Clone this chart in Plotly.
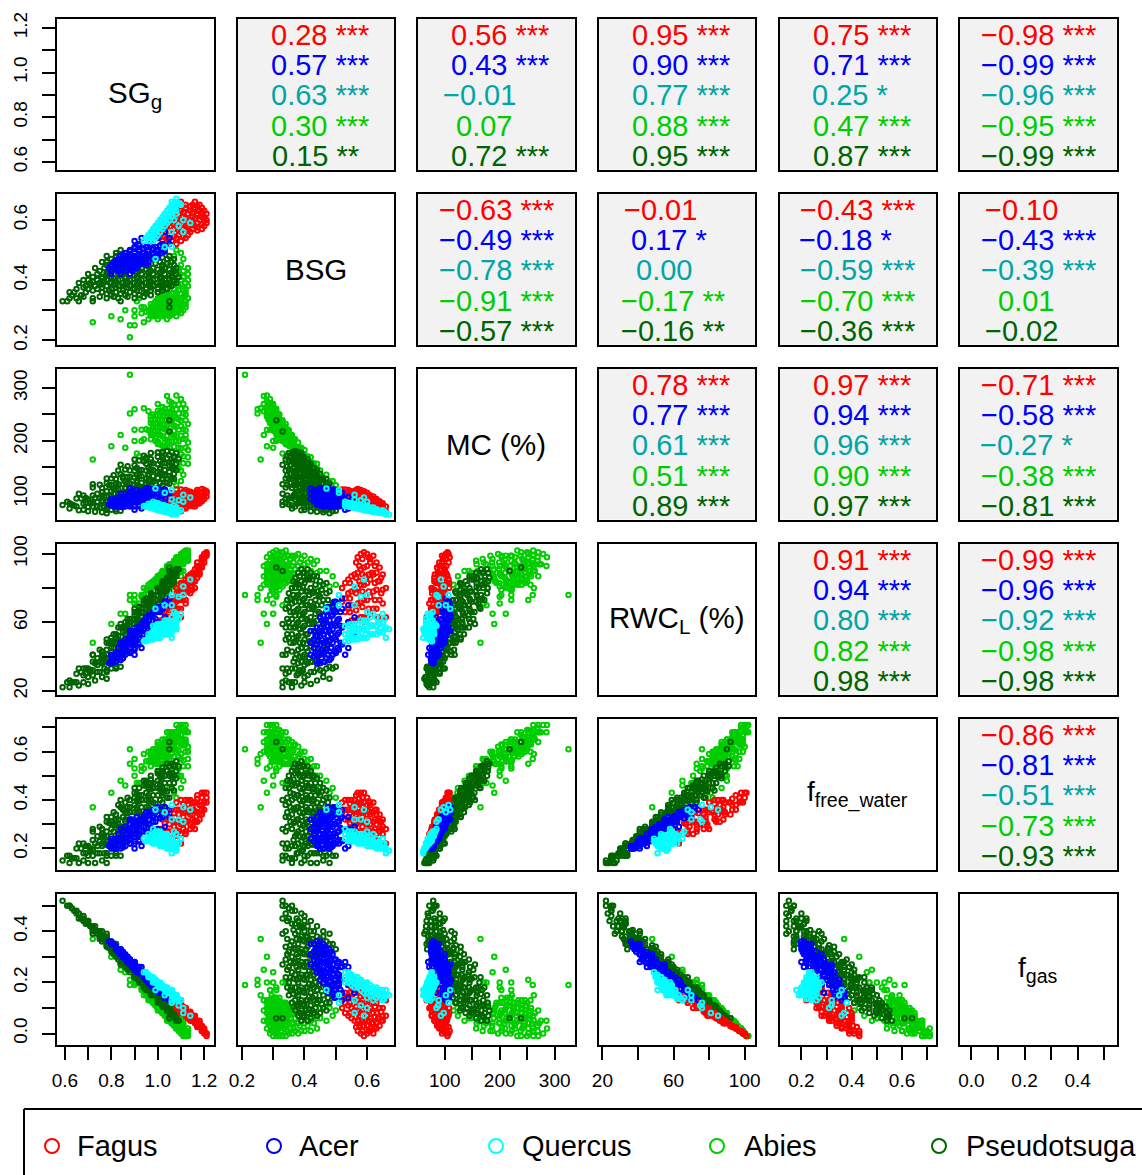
import plotly.graph_objects as go

# ---- values, one array per species and variable ----
fagus_sg = [1.04,1.08, 1.02,1.06,1.10, 1.00,1.04,1.08,1.12, 1.01,1.05,1.09,1.13, 1.02,1.06,1.10,1.14,
 1.03,1.07,1.11,1.15,1.19, 1.04,1.08,1.12,1.16,1.20, 1.05,1.09,1.13,1.17,1.21, 1.06,1.10,1.14,1.18,1.21,
 1.07,1.11,1.15,1.19,1.20, 1.09,1.13,1.17,1.21, 1.10,1.14,1.18,1.20, 1.12,1.16,1.19, 1.12,1.15,1.18, 1.10,1.16,
 1.03,1.07,1.11, 1.05,1.09,1.13,1.17, 1.07,1.11,1.15,1.19, 1.08,1.12,1.16,1.20, 1.11,1.15,1.19, 1.14,1.17,
 1.01,1.13,1.17, 1.03,1.15, 1.05,1.17, 1.08,1.16]
fagus_bsg = [.52,.52, .53,.53,.53, .54,.54,.54,.54, .55,.55,.55,.55, .56,.56,.56,.56,
 .57,.57,.57,.57,.57, .58,.58,.58,.58,.58, .59,.59,.59,.59,.59, .60,.60,.60,.60,.60,
 .61,.61,.61,.61,.61, .62,.62,.62,.62, .63,.63,.63,.63, .64,.64,.64, .65,.65,.65, .66,.66,
 .545,.545,.545, .565,.565,.565,.565, .585,.585,.585,.585, .605,.605,.605,.605, .625,.625,.625, .645,.645,
 .575,.575,.575, .595,.595, .615,.615, .635,.635]
fagus_mc = [100,108, 92,100,108, 85,93,100,107, 84,91,98,105, 82,89,96,104,
 81,88,95,102,109, 79,86,93,100,107, 78,85,92,98,105, 77,83,90,97,102,
 75,82,89,95,97, 76,82,89,95, 75,81,87,90, 75,81,86, 72,77,82, 67,76,
 89,96,104, 86,93,100,107, 83,90,97,103, 79,85,92,98, 78,84,90, 77,81,
 76,97,103, 73,93, 71,90, 70,83]
fagus_rwc = [72,80, 66,74,83, 60,68,77,85, 61,70,78,87, 61,70,79,88,
 62,71,80,89,98, 63,72,82,91,100, 63,73,82,92,101, 63,73,83,93,100,
 65,75,85,95,97, 68,78,88,99, 68,79,89,95, 73,84,92, 71,79,88, 63,80,
 66,74,83, 67,77,86,95, 69,78,88,97, 68,78,88,98, 73,83,93, 77,86,
 56,84,93, 58,87, 58,89, 63,84]
fagus_f = [.35,.39, .32,.36,.40, .28,.32,.36,.40, .28,.32,.36,.40, .28,.32,.36,.40,
 .27,.31,.35,.39,.43, .27,.31,.35,.39,.43, .27,.31,.35,.39,.43, .26,.30,.34,.38,.41,
 .26,.30,.34,.38,.39, .27,.31,.35,.39, .26,.30,.34,.36, .27,.31,.34, .26,.29,.32, .22,.28,
 .305,.345,.385, .30,.34,.38,.42, .29,.33,.37,.41, .275,.315,.355,.395, .28,.32,.36, .28,.31,
 .245,.365,.405, .24,.36, .23,.35, .235,.315]
fagus_gas = [.14,.10, .16,.12,.08, .19,.15,.11,.07, .18,.14,.10,.06, .17,.13,.09,.05,
 .17,.13,.09,.05,.01, .16,.12,.08,.04,.00, .15,.11,.07,.03,-.01, .15,.11,.07,.03,.00,
 .14,.10,.06,.02,.01, .12,.08,.04,.00, .12,.08,.04,.02, .10,.06,.03, .10,.07,.05, .13,.07,
 .16,.12,.08, .145,.105,.065,.025, .13,.09,.05,.01, .13,.09,.05,.01, .105,.065,.025, .085,.05,
 .19,.07,.03, .18,.055, .16,.04, .14,.06]

acer_sg = [.80,.84,.88, .80,.83,.86,.89, .79,.82,.85,.88,.91, .80,.83,.86,.89,.92,.95, .81,.84,.87,.90,.93,.96,
 .83,.86,.89,.92,.95,.98, .84,.87,.90,.93,.96,.99, .86,.90,.94,.98,1.01, .88,.92,.96,1.00,1.03,
 .90,.95,.99,1.03, .92,.97,1.02,1.05, .93,1.00,1.05, .98,1.03, .90,
 .82,.85,.88, .82,.85,.88,.91,.94, .85,.88,.91,.94,.97,1.00, .88,.92,.96,1.00,1.03, .92,.97,1.01,
 .80,.83,.87,.90, .82,.85,.88,.92,.95, .85,.88,.92,.95,.98, .90,.94,.98]
acer_bsg = [.42,.42,.42, .43,.43,.43,.43, .44,.44,.44,.44,.44, .45,.45,.45,.45,.45,.45, .46,.46,.46,.46,.46,.46,
 .47,.47,.47,.47,.47,.47, .48,.48,.48,.48,.48,.48, .49,.49,.49,.49,.49, .50,.50,.50,.50,.50,
 .51,.51,.51,.51, .52,.52,.52,.52, .54,.54,.54, .56,.56, .53,
 .435,.435,.435, .455,.455,.455,.455,.455, .475,.475,.475,.475,.475,.475, .495,.495,.495,.495,.495, .515,.515,.515,
 .445,.445,.445,.445, .465,.465,.465,.465,.465, .485,.485,.485,.485,.485, .505,.505,.505]
acer_mc = [90,100,110, 86,93,100,107, 80,86,93,100,107, 78,84,91,98,104,111, 76,83,89,96,102,109,
 77,83,89,96,102,109, 75,81,88,94,100,106, 76,84,92,100,106, 76,84,92,100,106,
 76,86,94,102, 77,87,96,102, 72,85,94, 75,84, 70,
 89,95,102, 80,87,93,100,107, 79,85,92,98,104,111, 78,86,94,102,108, 79,88,96,
 80,87,96,102, 76,83,89,98,104, 75,81,90,96,102, 78,86,94]
acer_rwc = [41,48,55, 40,45,50,55, 36,41,47,52,57, 36,41,47,52,57,63, 37,42,48,53,59,64,
 39,44,49,55,60,66, 38,43,49,55,61,66, 41,48,56,64,69, 42,50,58,66,72,
 44,54,62,70, 47,57,68,74, 45,60,70, 52,63, 41,
 42,47,52, 39,44,50,55,61, 41,47,52,58,64,69, 43,51,59,67,72, 48,58,66,
 37,42,49,55, 37,43,48,55,61, 39,45,53,58,64, 45,53,61]
acer_f = [.24,.28,.32, .23,.26,.29,.32, .21,.24,.27,.30,.33, .20,.23,.26,.29,.32,.35, .20,.23,.26,.29,.32,.35,
 .21,.24,.27,.30,.33,.36, .20,.23,.26,.29,.32,.35, .21,.25,.29,.33,.36, .22,.25,.30,.34,.37,
 .22,.27,.31,.35, .23,.28,.33,.36, .21,.28,.33, .24,.29, .20,
 .24,.27,.30, .215,.245,.275,.305,.335, .22,.25,.28,.31,.34,.37, .22,.26,.30,.34,.37, .235,.285,.325,
 .21,.24,.28,.31, .20,.23,.26,.30,.33, .205,.235,.275,.305,.335, .23,.27,.31]
acer_gas = [.35,.31,.27, .35,.32,.29,.26, .36,.33,.30,.27,.24, .36,.33,.30,.27,.24,.21, .35,.32,.29,.26,.23,.20,
 .33,.30,.27,.24,.21,.18, .33,.30,.27,.24,.20,.18, .31,.27,.23,.19,.16, .29,.25,.21,.17,.14,
 .28,.23,.19,.15, .26,.21,.16,.13, .26,.19,.14, .21,.16, .28,
 .33,.30,.27, .34,.31,.28,.25,.22, .31,.28,.25,.22,.19,.16, .29,.25,.21,.17,.14, .26,.21,.17,
 .35,.32,.28,.25, .34,.31,.28,.24,.21, .32,.29,.25,.22,.19, .275,.235,.195]

quercus_sg = [.94,.96,.98, .95,.97,.99, .96,.98,1.00, .97,.99,1.01, .98,1.00,1.02, .99,1.01,1.03,1.09, 1.00,1.02,1.04,
 1.01,1.03,1.05,1.11,1.07, 1.02,1.04,1.06, 1.03,1.05,1.08, 1.04,1.06,1.08, 1.05,1.07, 1.06,1.08,1.10, 1.06,1.08, 1.08,
 1.03,.99,1.06,1.14,1.11,1.06,
 .97,.99, .99,1.01, 1.01,1.03, 1.03,1.05, 1.05,1.07, 1.07,1.09, .96,.98]
quercus_bsg = [.53,.53,.53, .54,.54,.54, .55,.55,.55, .56,.56,.56, .57,.57,.57, .58,.58,.58,.58, .59,.59,.59,
 .60,.60,.60,.60,.60, .61,.61,.61, .62,.62,.62, .63,.63,.63, .64,.64, .65,.65,.65, .66,.66, .67,
 .51,.47,.51,.59,.56,.56,
 .555,.555, .575,.575, .595,.595, .615,.615, .635,.635, .655,.655, .545,.545]
quercus_mc = [77,81,85, 76,80,83, 75,78,82, 73,77,80, 72,75,79, 71,74,78,88, 69,73,76,
 68,72,75,85,78, 67,70,74, 66,69,74, 65,68,71, 64,67, 63,66,69, 61,64, 61,
 102,110,107,93,98,89,
 75,78, 72,76, 70,73, 67,71, 65,69, 63,66, 76,80]
quercus_rwc = [49,53,58, 49,53,58, 50,54,59, 50,55,59, 50,55,59, 51,56,61,75, 51,56,61,
 51,56,61,76,66, 53,58,63, 53,58,65, 53,58,63, 54,59, 54,60,65, 51,57, 56,
 70,68,76,85,81,70,
 51,56, 52,56, 53,58, 53,58, 55,60, 56,62, 51,55]
quercus_f = [.24,.26,.28, .23,.25,.27, .23,.25,.27, .23,.25,.27, .22,.24,.26, .22,.24,.26,.32, .22,.24,.26,
 .21,.23,.25,.31,.27, .21,.23,.25, .21,.23,.26, .20,.22,.24, .20,.22, .20,.22,.24, .18,.20, .19,
 .35,.36,.38,.36,.37,.32,
 .23,.25, .225,.245, .22,.24, .21,.23, .205,.225, .20,.22, .235,.255]
quercus_gas = [.24,.22,.20, .24,.22,.20, .23,.21,.19, .22,.20,.18, .22,.20,.18, .21,.19,.17,.11, .20,.18,.16,
 .20,.18,.16,.10,.14, .19,.17,.15, .18,.16,.13, .18,.16,.14, .17,.15, .17,.15,.13, .17,.15, .15,
 .15,.17,.12,.07,.08,.13,
 .22,.20, .21,.19, .195,.18, .18,.16, .17,.15, .155,.135, .23,.21]

abies_sg = [.88,.72,.84,.88,.90,.80,.86,.90,.91,.92,.95,.97,.94,.90,.93,
 .96,1.00,1.04, .98,1.00,1.02,1.05,1.08, .93,.97,.99,1.01,1.03,1.05,1.07,1.10,
 .96,.98,1.00,1.02,1.04,1.06,1.08,1.11, .94,.97,.99,1.01,1.03,1.05,1.07,1.09,1.12,
 .97,1.00,1.03,1.06,1.09,1.12, .99,1.02,1.05,1.08,1.12, 1.00,1.03,1.06,1.09,1.13,
 1.02,1.05,1.08,1.12, 1.00,1.04,1.08,1.12, 1.02,1.07,1.12, 1.09,1.13, 1.08,1.12, 1.10,1.13,
 1.09,1.13, 1.11,1.07, 1.09,1.13, 1.05, 1.11, 1.07, 1.10, 1.08,
 .97,.99,1.01,1.03,1.06, .95,.98,1.00,1.02,1.04,1.06,1.09, .97,.99,1.01,1.03,1.05,1.07,1.10,
 .98,1.00,1.02,1.04,1.06,1.08,1.11, .99,1.01,1.04,1.07,1.10, 1.00,1.04,1.07,1.10,
 1.01,1.04,1.07,1.11, 1.03,1.06,1.10, 1.05,1.09,1.11, 1.05,1.10, 1.06,1.11, 1.10]
abies_bsg = [.21,.26,.27,.25,.25,.28,.30,.30,.33,.34,.36,.28,.26,.28,.31,
 .27,.27,.27, .28,.28,.28,.28,.28, .29,.29,.29,.29,.29,.29,.29,.29,
 .30,.30,.30,.30,.30,.30,.30,.30, .31,.31,.31,.31,.31,.31,.31,.31,.31,
 .32,.32,.32,.32,.32,.32, .33,.33,.33,.33,.33, .34,.34,.34,.34,.34,
 .35,.35,.35,.35, .36,.36,.36,.36, .37,.37,.37, .38,.38, .39,.39, .40,.40,
 .42,.42, .43,.43, .44,.44, .45, .47, .48, .49, .50,
 .285,.285,.285,.285,.285, .295,.295,.295,.295,.295,.295,.295, .305,.305,.305,.305,.305,.305,.305,
 .315,.315,.315,.315,.315,.315,.315, .325,.325,.325,.325,.325, .335,.335,.335,.335,
 .345,.345,.345,.345, .355,.355,.355, .365,.365,.365, .385,.385, .41,.41, .45]
abies_mc = [325,165,211,252,260,190,187,200,176,171,164,246,262,221,200,
 256,270,285, 250,257,264,275,286, 221,234,241,248,255,262,269,279,
 220,227,233,240,247,253,260,270, 203,213,219,226,232,239,245,252,261,
 203,212,222,231,241,250, 200,209,218,227,239, 194,203,212,221,232,
 191,200,209,220, 178,189,200,211, 176,189,203, 187,197, 177,187, 175,183,
 160,169, 158,149, 148,157, 133, 136, 123, 124, 116,
 240,247,254,261,272, 222,232,239,246,253,259,269, 218,225,231,238,244,251,261,
 211,217,224,230,237,243,252, 205,211,220,229,238, 199,210,219,228,
 193,201,210,222, 190,199,210, 188,199,204, 173,186, 159,171, 144]
abies_rwc = [76,48,65,73,76,59,65,71,70,71,73,83,80,73,75,
 82,87,93, 84,87,90,94,98, 76,82,85,87,90,93,96,100,
 79,82,85,88,91,94,97,101, 76,80,83,86,89,92,95,98,102,
 79,84,88,92,97,101, 81,86,90,95,101, 83,87,92,96,102,
 84,89,94,99, 80,87,93,99, 83,91,99, 93,100, 91,97, 94,99,
 90,97, 94,87, 89,96, 81, 90, 81, 87, 82,
 82,85,88,90,94, 79,83,86,89,92,94,98, 80,83,86,89,92,95,99,
 81,84,87,90,93,96,100, 82,85,90,94,99, 83,89,93,98,
 84,88,93,99, 86,91,97, 88,95,98, 87,95, 86,95, 90]
abies_f = [.61,.37,.48,.55,.57,.43,.46,.50,.47,.47,.47,.60,.59,.53,.52,
 .60,.64,.68, .61,.63,.65,.68,.71, .54,.58,.60,.62,.64,.66,.68,.71,
 .56,.58,.60,.62,.64,.66,.68,.71, .53,.56,.58,.60,.62,.64,.66,.68,.71,
 .54,.57,.60,.63,.66,.69, .55,.58,.61,.64,.68, .55,.58,.61,.64,.68,
 .55,.58,.61,.65, .52,.56,.60,.64, .53,.58,.63, .58,.62, .56,.60, .57,.60,
 .53,.57, .54,.50, .50,.54, .45, .48, .43, .45, .41,
 .59,.61,.63,.65,.68, .56,.59,.61,.63,.65,.67,.70, .56,.58,.60,.62,.64,.66,.69,
 .56,.58,.60,.62,.64,.66,.69, .56,.58,.61,.64,.67, .55,.59,.62,.65,
 .55,.58,.61,.65, .56,.59,.63, .565,.605,.625, .54,.59, .515,.565, .50]
abies_gas = [.19,.37,.25,.21,.19,.30,.24,.20,.20,.20,.17,.13,.15,.20,.18,
 .13,.09,.05, .12,.10,.08,.05,.02, .17,.13,.11,.09,.07,.05,.03,.00,
 .14,.12,.10,.08,.06,.04,.02,-.01, .17,.14,.12,.10,.08,.06,.04,.02,-.01,
 .14,.11,.08,.05,.02,-.01, .12,.09,.06,.03,-.01, .12,.09,.06,.03,-.01,
 .10,.07,.04,.00, .12,.08,.04,.00, .11,.06,.01, .04,.00, .05,.01, .04,.01,
 .05,.01, .04,.08, .06,.02, .10, .05, .10, .07, .09,
 .13,.11,.09,.07,.04, .15,.12,.10,.08,.06,.04,.01, .14,.12,.10,.08,.06,.04,.01,
 .13,.11,.09,.07,.05,.03,.00, .12,.10,.07,.04,.01, .12,.08,.05,.02,
 .11,.08,.05,.01, .09,.06,.02, .08,.04,.02, .08,.03, .08,.03, .06]

pseudo_sg = [.59,.61,.66,.72,.84, .62,.65,.72,.78,.83,.90,1.05,1.05, .63,.67,.80,.86,.92,.97,
 .64,.69,.76,.82,.88,.94,1.00, .65,.70,.74,.80,.85,.90,.95,1.00,1.04,
 .69,.73,.78,.83,.88,.93,.98,1.02,1.06, .71,.75,.80,.85,.90,.95,1.00,1.04,1.08,
 .70,.74,.78,.83,.88,.93,.98,1.03,1.07, .72,.76,.80,.86,.91,.96,1.01,1.06,1.09,
 .74,.78,.83,.88,.93,.98,1.03,1.08, .75,.80,.86,.92,.97,1.02,1.07,
 .77,.81,.87,.93,.98,1.03,1.08, .78,.84,.90,.96,1.02,1.07, .78,.85,.94,1.01,1.06,
 .80,.88,.98,1.04,1.07, .82,.90,1.00,1.05, .82,1.02, .84,
 .62,.66,.70,.68,.73,.78,.76,
 .68,.75,.81,.87,.94, .78,.84,.90,.95, .72,.79,.85,.91,.97,1.02,
 .68,.76,.82,.87,.92,.97,1.02, .71,.76,.81,.86,.91,.96,1.01,1.05,
 .72,.77,.82,.87,.92,.97,1.02,1.07, .76,.81,.86,.91,.96,1.01,1.05,
 .78,.84,.90,.95,1.00,1.05, .78,.85,.91,.96,1.01,1.06, .80,.84,.89,.95,1.00,1.05,
 .82,.90,.96,1.02, .84,.92,.99,1.04, .85,.94,1.02]
pseudo_bsg = [.33,.33,.33,.33,.33, .34,.34,.34,.34,.34,.34,.33,.31, .35,.35,.35,.35,.35,.35,
 .36,.36,.36,.36,.36,.36,.36, .37,.37,.37,.37,.37,.37,.37,.37,.37,
 .38,.38,.38,.38,.38,.38,.38,.38,.38, .39,.39,.39,.39,.39,.39,.39,.39,.39,
 .40,.40,.40,.40,.40,.40,.40,.40,.40, .41,.41,.41,.41,.41,.41,.41,.41,.41,
 .42,.42,.42,.42,.42,.42,.42,.42, .43,.43,.43,.43,.43,.43,.43,
 .44,.44,.44,.44,.44,.44,.44, .45,.45,.45,.45,.45,.45, .46,.46,.46,.46,.46,
 .47,.47,.47,.47,.47, .48,.48,.48,.48, .49,.49, .50,
 .36,.39,.42,.40,.44,.48,.46,
 .345,.345,.345,.345,.345, .355,.355,.355,.355, .365,.365,.365,.365,.365,.365,
 .375,.375,.375,.375,.375,.375,.375, .385,.385,.385,.385,.385,.385,.385,.385,
 .395,.395,.395,.395,.395,.395,.395,.395, .405,.405,.405,.405,.405,.405,.405,
 .415,.415,.415,.415,.415,.415, .425,.425,.425,.425,.425,.425, .435,.435,.435,.435,.435,.435,
 .445,.445,.445,.445, .455,.455,.455,.455, .475,.475,.475]
pseudo_mc = [79,85,100,118,155, 82,91,112,129,144,165,218,239, 80,91,129,146,163,177,
 78,92,111,128,144,161,178, 76,89,100,116,130,143,157,170,181,
 82,92,105,118,132,145,158,168,179, 82,92,105,118,131,144,156,167,177,
 75,85,95,108,120,133,145,158,168, 76,85,95,110,122,134,146,159,166,
 76,86,98,110,121,133,145,157, 74,86,100,114,126,137,149,
 75,84,98,111,123,134,145, 73,87,100,113,127,138, 70,85,104,120,130,
 70,87,109,121,128, 71,88,108,119, 67,108, 68,
 72,69,67,70,66,63,65,
 97,117,135,152,172, 120,137,154,168, 97,116,133,149,166,179,
 81,103,119,132,145,159,172, 84,97,110,123,136,149,162,173,
 82,95,108,120,133,146,158,171, 88,100,112,125,137,149,159,
 88,102,117,129,141,153, 84,100,114,126,138,149, 84,93,105,118,130,141,
 84,102,116,129, 85,102,118,129, 79,98,115]
pseudo_rwc = [22,25,33,41,59, 26,30,41,50,57,68,90,92, 25,31,51,60,69,77,
 25,33,43,53,62,71,80, 25,33,39,49,57,64,72,80,86,
 30,36,44,52,60,68,76,82,89, 31,37,45,54,62,70,78,84,91,
 28,35,41,50,58,66,74,83,89, 29,36,43,53,61,70,78,86,91,
 31,37,46,55,63,72,80,89, 31,40,50,60,69,78,87,
 33,40,50,61,70,78,87, 32,43,54,65,75,84, 31,44,60,73,82,
 33,47,66,77,83, 34,49,68,78, 33,71, 34,
 22,23,24,25,26,27,28,
 33,44,53,62,73, 48,57,66,74, 37,48,57,66,76,84,
 29,41,51,59,67,75,83, 32,40,48,56,64,72,80,87,
 32,40,48,57,65,73,81,89, 37,45,53,62,70,78,85,
 39,49,59,68,76,85, 37,49,59,68,77,85, 38,45,54,65,73,82,
 41,55,66,76, 43,57,70,79, 41,58,73]
pseudo_f = [.15,.17,.22,.28,.40, .17,.20,.27,.33,.38,.45,.61,.64, .16,.20,.33,.39,.45,.50,
 .16,.21,.28,.34,.40,.46,.52, .16,.21,.25,.31,.36,.41,.46,.51,.55,
 .18,.22,.27,.32,.37,.42,.47,.51,.55, .19,.23,.28,.33,.38,.43,.48,.52,.56,
 .17,.21,.25,.30,.35,.40,.45,.50,.54, .17,.21,.25,.31,.36,.41,.46,.51,.54,
 .18,.22,.27,.32,.37,.42,.47,.52, .18,.23,.29,.35,.40,.45,.50,
 .18,.22,.28,.34,.39,.44,.49, .18,.24,.30,.36,.42,.47, .17,.24,.33,.40,.45,
 .17,.25,.35,.41,.44, .18,.26,.36,.41, .17,.37, .17,
 .14,.14,.14,.15,.14,.14,.15,
 .22,.29,.35,.41,.48, .31,.37,.43,.48, .235,.305,.365,.425,.485,.535,
 .18,.26,.32,.37,.42,.47,.52, .20,.25,.30,.35,.40,.45,.50,.54,
 .195,.245,.295,.345,.395,.445,.495,.545, .22,.27,.32,.37,.42,.47,.51,
 .23,.29,.35,.40,.45,.50, .215,.285,.345,.395,.445,.495, .22,.26,.31,.37,.42,.47,
 .23,.31,.37,.43, .235,.315,.385,.435, .22,.31,.39]
pseudo_gas = [.52,.50,.45,.39,.27, .50,.47,.40,.34,.29,.22,.06,.06, .49,.45,.32,.26,.20,.15,
 .48,.43,.36,.30,.24,.18,.12, .48,.43,.39,.33,.28,.23,.18,.13,.09,
 .44,.40,.35,.30,.25,.20,.15,.11,.07, .42,.38,.33,.28,.23,.18,.13,.09,.05,
 .44,.40,.36,.31,.26,.21,.16,.11,.07, .42,.38,.34,.28,.23,.18,.13,.08,.05,
 .40,.36,.31,.26,.21,.16,.11,.06, .40,.35,.29,.23,.18,.13,.08,
 .38,.34,.28,.22,.17,.12,.07, .37,.31,.25,.19,.13,.08, .38,.31,.22,.15,.10,
 .36,.28,.18,.12,.09, .35,.27,.17,.12, .35,.15, .33,
 .50,.47,.44,.46,.42,.39,.40,
 .44,.37,.31,.25,.18, .345,.28,.22,.17, .405,.335,.275,.215,.155,.105,
 .45,.37,.31,.26,.21,.16,.11, .42,.37,.32,.27,.22,.17,.12,.08,
 .415,.365,.315,.265,.215,.165,.115,.065, .38,.33,.28,.23,.18,.13,.09,
 .365,.305,.245,.195,.145,.095, .37,.30,.24,.19,.14,.09, .35,.31,.26,.20,.15,.10,
 .33,.25,.19,.13, .315,.235,.165,.115, .31,.22,.14]

species_names = ["Fagus", "Acer", "Quercus", "Abies", "Pseudotsuga"]
species_colors = ["#ff0000", "#0000ff", "#00ffff", "#00cd00", "#006400"]
text_colors = ["#ff0000", "#0000ff", "#00a5a5", "#00cd00", "#006400"]
series = {
    "Fagus": [fagus_sg, fagus_bsg, fagus_mc, fagus_rwc, fagus_f, fagus_gas],
    "Acer": [acer_sg, acer_bsg, acer_mc, acer_rwc, acer_f, acer_gas],
    "Quercus": [quercus_sg, quercus_bsg, quercus_mc, quercus_rwc, quercus_f, quercus_gas],
    "Abies": [abies_sg, abies_bsg, abies_mc, abies_rwc, abies_f, abies_gas],
    "Pseudotsuga": [pseudo_sg, pseudo_bsg, pseudo_mc, pseudo_rwc, pseudo_f, pseudo_gas],
}
draw_order = ["Abies", "Pseudotsuga", "Fagus", "Acer", "Quercus"]

var_labels = ["SG<sub>g</sub>", "BSG", "MC (%)", "RWC<sub>L</sub> (%)", "f<sub>free_water</sub>", "f<sub>gas</sub>"]
var_label_sizes = [29.5, 29.5, 29.5, 29.5, 28, 28]
ranges = [(.566, 1.24), (.186, .686), (51.4, 336), (17.8, 105.8), (.113, .735), (-.043, .546)]
label_vals = [[.6,.8,1.0,1.2], [.2,.4,.6], [100,200,300], [20,60,100], [.2,.4,.6], [0,.2,.4]]
label_text = [["0.6","0.8","1.0","1.2"], ["0.2","0.4","0.6"], ["100","200","300"], ["20","60","100"],
              ["0.2","0.4","0.6"], ["0.0","0.2","0.4"]]
minor_vals = [[.7,.9,1.1], [.3,.5], [150,250], [40,80], [.3,.5,.7], [.1,.3,.5]]

# correlations (row, column) with their significance stars, per species
corr = {
 (0,1): [("0.28","***"),("0.57","***"),("0.63","***"),("0.30","***"),("0.15","**")],
 (0,2): [("0.56","***"),("0.43","***"),("−0.01",""),("0.07",""),("0.72","***")],
 (0,3): [("0.95","***"),("0.90","***"),("0.77","***"),("0.88","***"),("0.95","***")],
 (0,4): [("0.75","***"),("0.71","***"),("0.25","*"),("0.47","***"),("0.87","***")],
 (0,5): [("−0.98","***"),("−0.99","***"),("−0.96","***"),("−0.95","***"),("−0.99","***")],
 (1,2): [("−0.63","***"),("−0.49","***"),("−0.78","***"),("−0.91","***"),("−0.57","***")],
 (1,3): [("−0.01",""),("0.17","*"),("0.00",""),("−0.17","**"),("−0.16","**")],
 (1,4): [("−0.43","***"),("−0.18","*"),("−0.59","***"),("−0.70","***"),("−0.36","***")],
 (1,5): [("−0.10",""),("−0.43","***"),("−0.39","***"),("0.01",""),("−0.02","")],
 (2,3): [("0.78","***"),("0.77","***"),("0.61","***"),("0.51","***"),("0.89","***")],
 (2,4): [("0.97","***"),("0.94","***"),("0.96","***"),("0.90","***"),("0.97","***")],
 (2,5): [("−0.71","***"),("−0.58","***"),("−0.27","*"),("−0.38","***"),("−0.81","***")],
 (3,4): [("0.91","***"),("0.94","***"),("0.80","***"),("0.82","***"),("0.98","***")],
 (3,5): [("−0.99","***"),("−0.96","***"),("−0.92","***"),("−0.98","***"),("−0.98","***")],
 (4,5): [("−0.86","***"),("−0.81","***"),("−0.51","***"),("−0.73","***"),("−0.93","***")],
}

W, H = 1142, 1175
FONT = "Liberation Sans"
col_x = [(57,213.5),(237.5,394),(418,574.5),(598.5,755),(779.5,936),(960,1116.5)]
row_y = [(19,169.5),(194,344.5),(369,519.5),(544,694.5),(719,869.5),(894,1044.5)]
px = lambda x: x / W
py = lambda y: 1 - y / H

fig = go.Figure()
layout = dict(width=W, height=H, margin=dict(l=0, r=0, t=0, b=0, autoexpand=False), autosize=False, showlegend=False,
              paper_bgcolor="white", plot_bgcolor="rgba(0,0,0,0)", font=dict(family=FONT, color="black"))
shapes, annots = [], []
tick_style = dict(ticks="outside", ticklen=13, tickwidth=2, tickcolor="black")
for r in range(6):
    for c in range(6):
        k = r * 6 + c + 1
        sx = "" if k == 1 else str(k)
        xa = dict(domain=[px(col_x[c][0]), px(col_x[c][1])], range=list(ranges[c]), anchor="y" + sx,
                  showgrid=False, zeroline=False, showline=True, mirror=True, linecolor="black", linewidth=2)
        ya = dict(domain=[py(row_y[r][1]), py(row_y[r][0])], range=list(ranges[r]), anchor="x" + sx,
                  showgrid=False, zeroline=False, showline=True, mirror=True, linecolor="black", linewidth=2)
        if r == 5:
            xa.update(tickmode="array", tickvals=label_vals[c], ticktext=label_text[c], tickangle=0,
                      tickfont=dict(family=FONT, size=19), ticklabelstandoff=5,
                      minor=dict(tickmode="array", tickvals=minor_vals[c], **tick_style), **tick_style)
        else:
            xa.update(showticklabels=False, ticks="")
        if c == 0:
            ya.update(tickmode="array", tickvals=label_vals[r], ticktext=label_text[r], tickangle=-90,
                      tickfont=dict(family=FONT, size=19), ticklabelstandoff=7,
                      minor=dict(tickmode="array", tickvals=minor_vals[r], **tick_style), **tick_style)
        else:
            ya.update(showticklabels=False, ticks="")
        layout["xaxis" + sx] = xa
        layout["yaxis" + sx] = ya
        x0, x1 = col_x[c]; y0, y1 = row_y[r]
        xm, ym = (x0 + x1) / 2, (y0 + y1) / 2
        if r <= c:
            # an empty trace so the boxed panel and its axes are drawn
            fig.add_trace(go.Scatter(x=[None], y=[None], mode="markers", xaxis="x" + sx, yaxis="y" + sx,
                                     hoverinfo="skip", marker=dict(opacity=0)))
        if r == c:
            annots.append(dict(xref="paper", yref="paper", x=px(xm), y=py(ym), text=var_labels[r], showarrow=False,
                               xanchor="center", yanchor="middle",
                               font=dict(family=FONT, size=var_label_sizes[r], color="black")))
        elif r > c:
            for name in draw_order:
                col = species_colors[species_names.index(name)]
                fig.add_trace(go.Scatter(x=series[name][c], y=series[name][r], mode="markers", name=name,
                                         xaxis="x" + sx, yaxis="y" + sx, hoverinfo="skip",
                                         marker=dict(symbol="circle-open", size=4.5, color=col,
                                                     line=dict(color=col, width=2))))
        else:
            shapes.append(dict(type="rect", xref="paper", yref="paper", x0=px(x0), x1=px(x1), y0=py(y0), y1=py(y1),
                               fillcolor="#f2f2f2", line=dict(width=0), layer="below"))
            for i, (val, stars) in enumerate(corr[(r, c)]):
                neg = val.startswith("−")
                nb = "\u00a0"
                if stars == "***":
                    txt = val + nb + stars
                    shift = 0 if neg else 4
                elif stars == "**":
                    txt = val + nb + stars + nb
                    shift = 0 if neg else 4
                elif stars == "*":
                    txt = val + nb + stars + nb * 3
                    shift = 0 if neg else 4
                else:
                    txt = val + nb * (4 if neg else 3)
                    shift = 0
                annots.append(dict(xref="paper", yref="paper", x=px(xm), y=py(ym + 1 + (i - 2) * 30.3), text=txt,
                                   showarrow=False, xanchor="center", yanchor="middle", xshift=shift,
                                   font=dict(family=FONT, size=29, color=text_colors[i])))

# legend strip at the foot of the page
shapes.append(dict(type="line", xref="paper", yref="paper", x0=px(24), x1=px(24), y0=py(1109), y1=py(1175),
                   line=dict(color="black", width=2)))
shapes.append(dict(type="line", xref="paper", yref="paper", x0=px(24), x1=px(1142), y0=py(1109), y1=py(1109),
                   line=dict(color="black", width=2)))
legend_marker_x = [52, 274, 496, 717, 939]
legend_text_x = [75, 297, 520, 742, 964]
for name, col, mx, tx in zip(species_names, species_colors, legend_marker_x, legend_text_x):
    shapes.append(dict(type="circle", xref="paper", yref="paper", x0=px(mx - 7), x1=px(mx + 7),
                       y0=py(1146 + 7), y1=py(1146 - 7), line=dict(color=col, width=2)))
    annots.append(dict(xref="paper", yref="paper", x=px(tx), y=py(1146), text=name, showarrow=False,
                       xanchor="left", yanchor="middle", font=dict(family=FONT, size=29, color="black")))

layout["shapes"] = shapes
layout["annotations"] = annots
fig.update_layout(**layout)
fig.write_html("out.html", config={"displayModeBar": False},
               post_script="document.body.style.margin='0';document.documentElement.style.overflow='hidden';")
